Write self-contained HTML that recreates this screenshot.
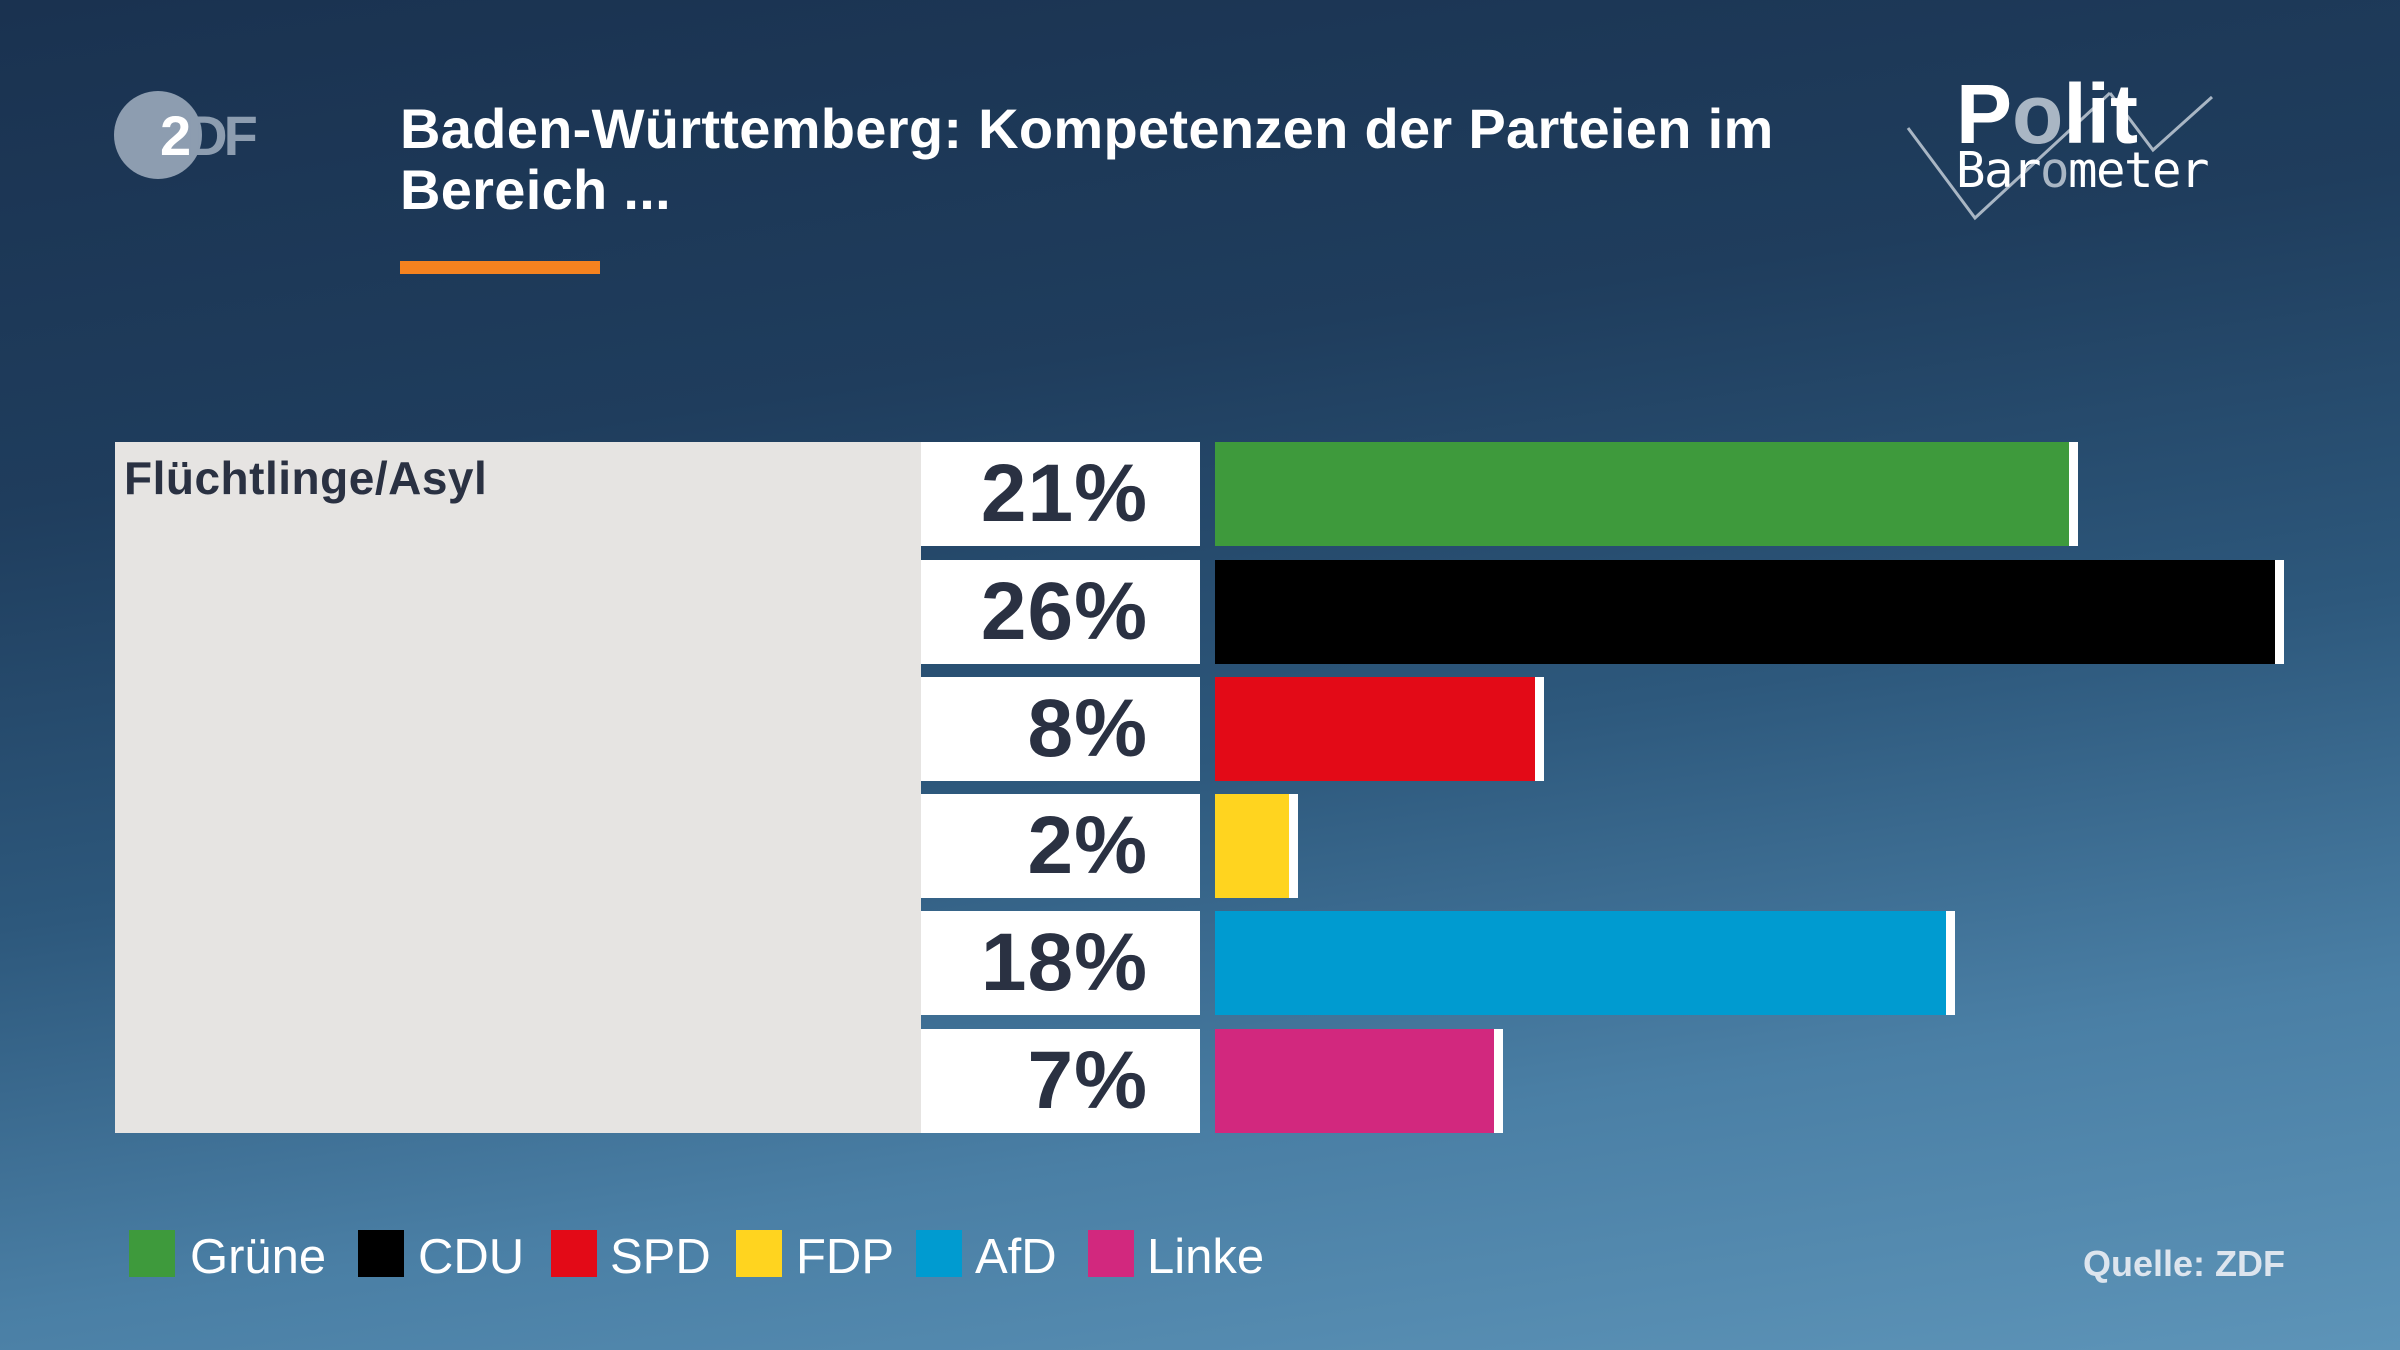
<!DOCTYPE html>
<html><head><meta charset="utf-8"><style>
html,body{margin:0;padding:0}
body{width:2400px;height:1350px;position:relative;overflow:hidden;
background:linear-gradient(172deg,#1a3250 0%,#1f3d5d 30%,#2d587c 55%,#4a7fa5 78%,#5d94b8 100%);
font-family:"Liberation Sans",sans-serif}
.a{position:absolute}
.title{left:400px;top:98px;color:#fff;font-weight:bold;font-size:56px;line-height:61px;width:1500px;letter-spacing:0.3px}
.pct{left:921px;width:279px;height:104px;background:#fff;color:#2a3142;font-weight:bold;font-size:82px;line-height:104px;text-align:right;box-sizing:border-box;padding-right:52px;letter-spacing:1px}
.bar{left:1215px;height:104px;box-sizing:border-box;border-right:9px solid #fff}
.sq{top:1230px;width:46px;height:47px}
.lg{top:1230px;color:#fff;font-size:49px;line-height:54px}
</style></head><body>
<div class="a" style="left:114px;top:91px;width:88px;height:88px;border-radius:50%;background:#8d9db0"></div>
<div class="a" style="left:160px;top:108px;color:#fff;font-weight:bold;font-size:56px;line-height:56px;letter-spacing:-4px">2<span style="color:#8d9db0">DF</span></div>
<div class="a title">Baden-Württemberg: Kompetenzen der Parteien im<br>Bereich ...</div>
<div class="a" style="left:400px;top:261px;width:200px;height:13px;background:#f5821f"></div>
<svg class="a" style="left:0;top:0" width="2400" height="300">
<polyline points="1908,128 1975,218 2110,93" fill="none" stroke="#a9b6c4" stroke-width="3"/>
<polyline points="2110,93 2153,150 2212,97" fill="none" stroke="#a9b6c4" stroke-width="3"/>
</svg>
<div class="a" style="left:1956px;top:72px;color:#fff;font-weight:bold;font-size:84px;line-height:84px">P<span style="color:#a9b6c4">o</span>lit</div>
<div class="a" style="left:1956px;top:146px;color:#fff;font-family:'DejaVu Sans Mono','Liberation Mono',monospace;font-size:49px;line-height:50px;letter-spacing:-1.5px">Bar<span style="color:#a9b6c4">o</span>meter</div>
<div class="a" style="left:115px;top:442px;width:806px;height:691px;background:#e6e4e2"></div>
<div class="a" style="left:124px;top:448px;color:#2a3142;font-weight:bold;font-size:46px;line-height:60px;letter-spacing:0.5px">Flüchtlinge/Asyl</div>
<div class="a pct" style="top:442px">21%</div>
<div class="a pct" style="top:560px">26%</div>
<div class="a pct" style="top:677px">8%</div>
<div class="a pct" style="top:794px">2%</div>
<div class="a pct" style="top:911px">18%</div>
<div class="a pct" style="top:1029px">7%</div>
<div class="a bar" style="top:442px;width:863px;background:#3e9a3c"></div>
<div class="a bar" style="top:560px;width:1069px;background:#000"></div>
<div class="a bar" style="top:677px;width:329px;background:#e30a17"></div>
<div class="a bar" style="top:794px;width:83px;background:#ffd41f"></div>
<div class="a bar" style="top:911px;width:740px;background:#009bd0"></div>
<div class="a bar" style="top:1029px;width:288px;background:#d2287e"></div>
<div class="a sq" style="left:129px;background:#3e9a3c"></div><div class="a lg" style="left:190px">Grüne</div>
<div class="a sq" style="left:358px;background:#000"></div><div class="a lg" style="left:418px">CDU</div>
<div class="a sq" style="left:551px;background:#e30a17"></div><div class="a lg" style="left:610px">SPD</div>
<div class="a sq" style="left:736px;background:#ffd41f"></div><div class="a lg" style="left:796px">FDP</div>
<div class="a sq" style="left:916px;background:#009bd0"></div><div class="a lg" style="left:975px">AfD</div>
<div class="a sq" style="left:1088px;background:#d2287e"></div><div class="a lg" style="left:1147px">Linke</div>
<div class="a" style="right:115px;top:1244px;color:#dde5ee;font-weight:bold;font-size:36px;line-height:40px">Quelle: ZDF</div>
</body></html>
